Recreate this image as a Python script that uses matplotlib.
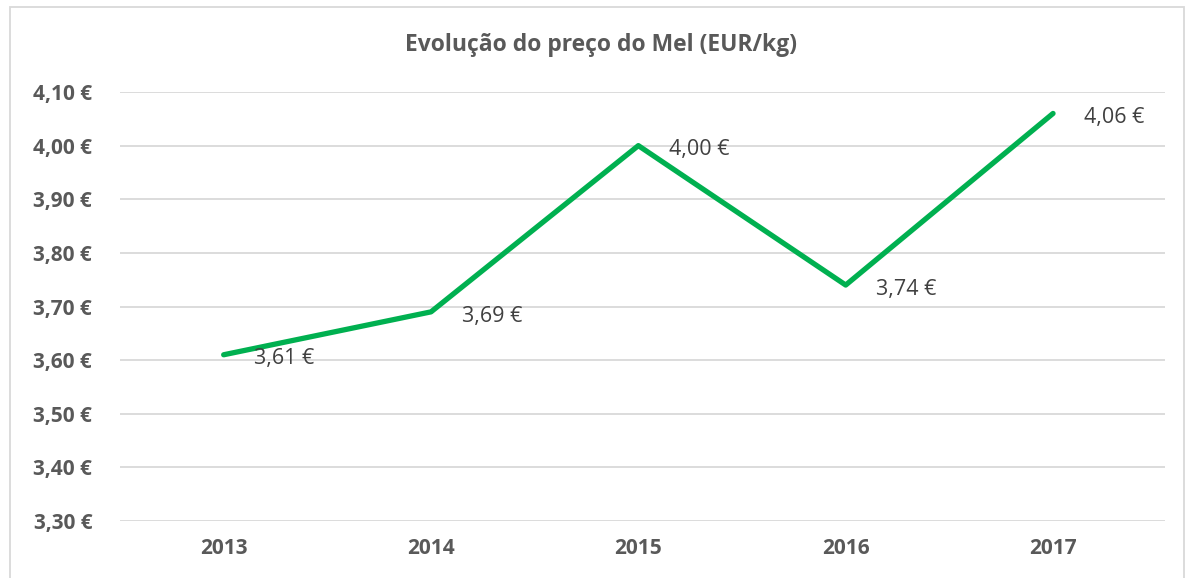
import matplotlib.pyplot as plt
from matplotlib.patches import Rectangle

plt.rcParams['font.family'] = ['Open Sans', 'DejaVu Sans']

years = ['2013', '2014', '2015', '2016', '2017']
prices = [3.61, 3.69, 4.00, 3.74, 4.06]
y_ticks = [3.30, 3.40, 3.50, 3.60, 3.70, 3.80, 3.90, 4.00, 4.10]

grey = '#595959'

fig = plt.figure(figsize=(11.9, 5.78), dpi=100)
ax = fig.add_axes([120 / 1190, 1 - 521 / 578, 1045 / 1190, (521 - 92) / 578])

x = list(range(len(years)))
ax.plot(x, prices, color='#00B050', linewidth=3.8, solid_capstyle='round', zorder=3)

for xi, p in zip(x, prices):
    lbl = f"{p:.2f}".replace('.', ',') + ' €'
    ax.annotate(lbl, (xi, p), xytext=(22, -3), textcoords='offset points',
                ha='left', va='center', fontsize=15.5, color='#404040')

ax.set_ylim(3.30, 4.10)
ax.set_xlim(-0.5, 4.54)
ax.set_yticks(y_ticks)
ax.set_yticklabels([f"{t:.2f}".replace('.', ',') + ' €' for t in y_ticks])
ax.set_xticks(x)
ax.set_xticklabels(years)
ax.tick_params(length=0, labelsize=15, labelcolor=grey)
ax.tick_params(axis='y', pad=20)
ax.tick_params(axis='x', pad=12)
for lab in ax.get_xticklabels() + ax.get_yticklabels():
    lab.set_fontweight('bold')

ax.grid(axis='y', color='#D9D9D9', linewidth=1.3)
ax.set_axisbelow(True)
for s in ax.spines.values():
    s.set_visible(False)

fig.text(601 / 1190, 1 - 45 / 578, 'Evolução do preço do Mel (EUR/kg)', ha='center', va='center',
         fontsize=16.5, fontweight='bold', color=grey)

fig.patches.append(Rectangle((10 / 1190, -0.01), 1174 / 1190, 1 - 7 / 578 + 0.01,
                             transform=fig.transFigure, fill=False,
                             edgecolor='#D9D9D9', linewidth=1.3))

fig.savefig('out.png', dpi=100)
